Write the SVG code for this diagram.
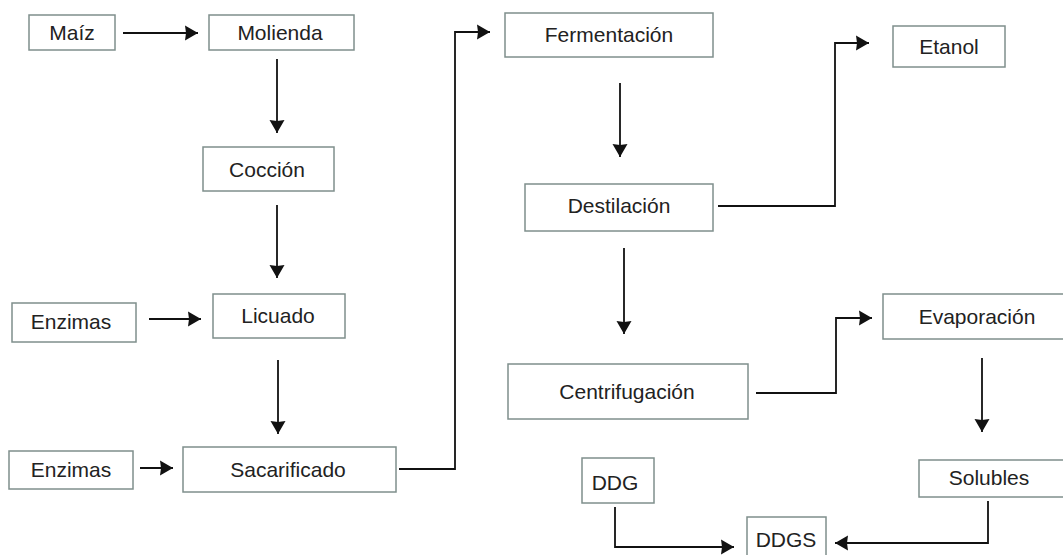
<svg xmlns="http://www.w3.org/2000/svg" width="1063" height="555" viewBox="0 0 1063 555">
<defs>
<marker id="ah" markerUnits="userSpaceOnUse" markerWidth="16" markerHeight="18" refX="13" refY="8" orient="auto">
<path d="M0,0.5 L13,8 L0,15.5 L1,8 z" fill="#111"/>
</marker>
<style>
.box{fill:#fff;stroke:#7f8f8c;stroke-width:1.5}
.lbl{font-family:"Liberation Sans",Arial,sans-serif;font-size:21px;fill:#222;text-anchor:middle}
.c{fill:none;stroke:#111;stroke-width:1.8;marker-end:url(#ah)}
</style>
</defs>
<rect width="1063" height="555" fill="#fff"/>
<g id="maiz"><rect class="box" x="29" y="15" width="86" height="35"/><text class="lbl" x="72" y="40">Maíz</text></g>
<g id="molienda"><rect class="box" x="209" y="15" width="145" height="35"/><text class="lbl" x="280" y="40">Molienda</text></g>
<g id="coccion"><rect class="box" x="203" y="147" width="131" height="44"/><text class="lbl" x="267" y="177">Cocción</text></g>
<g id="enzimas1"><rect class="box" x="12" y="303" width="124" height="39"/><text class="lbl" x="71" y="329">Enzimas</text></g>
<g id="licuado"><rect class="box" x="213" y="294" width="132" height="44"/><text class="lbl" x="278" y="323">Licuado</text></g>
<g id="enzimas2"><rect class="box" x="9" y="451" width="124" height="38"/><text class="lbl" x="71" y="477">Enzimas</text></g>
<g id="sacarificado"><rect class="box" x="183" y="447" width="213" height="45"/><text class="lbl" x="288" y="477">Sacarificado</text></g>
<g id="fermentacion"><rect class="box" x="505" y="13" width="208" height="44"/><text class="lbl" x="609" y="42">Fermentación</text></g>
<g id="destilacion"><rect class="box" x="525" y="184" width="188" height="47"/><text class="lbl" x="619" y="213">Destilación</text></g>
<g id="etanol"><rect class="box" x="893" y="26" width="112" height="41"/><text class="lbl" x="949" y="54">Etanol</text></g>
<g id="centrifugacion"><rect class="box" x="508" y="364" width="240" height="55"/><text class="lbl" x="627" y="399">Centrifugación</text></g>
<g id="evaporacion"><rect class="box" x="883" y="294" width="192" height="45"/><text class="lbl" x="977" y="324">Evaporación</text></g>
<g id="solubles"><rect class="box" x="919" y="460" width="156" height="37"/><text class="lbl" x="989" y="485">Solubles</text></g>
<g id="ddg"><rect class="box" x="582" y="458" width="72" height="45"/><text class="lbl" x="615" y="490">DDG</text></g>
<g id="ddgs"><rect class="box" x="747" y="517" width="79" height="45"/><text class="lbl" x="786" y="547">DDGS</text></g>
<g id="connectors">
<path class="c" d="M123,33 H198"/>
<path class="c" d="M277,59 V133"/>
<path class="c" d="M277,205 V278"/>
<path class="c" d="M149,319 H201"/>
<path class="c" d="M278,360 V434"/>
<path class="c" d="M140,468 H173"/>
<path class="c" d="M399,469 H455 V32 H490"/>
<path class="c" d="M620,83 V157"/>
<path class="c" d="M718,206 H835 V43 H869"/>
<path class="c" d="M624,248 V334"/>
<path class="c" d="M756,393 H836 V318 H872"/>
<path class="c" d="M982,358 V432"/>
<path class="c" d="M988,501 V543 H835"/>
<path class="c" d="M615,507 V547 H734"/>
</g>
</svg>
